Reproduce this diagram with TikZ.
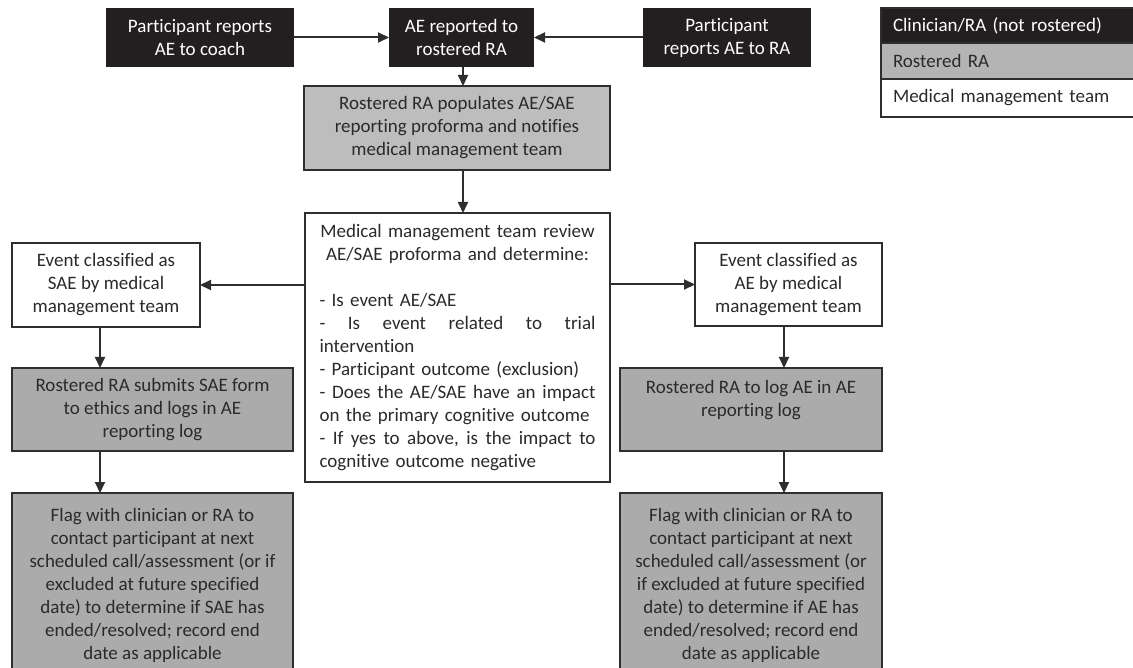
\documentclass[tikz,border=0pt]{standalone}
\usepackage{fontspec}
\setmainfont[Ligatures=NoCommon]{Carlito}
\usetikzlibrary{arrows.meta}
\definecolor{boxblack}{HTML}{231F20}
\definecolor{graylight}{HTML}{BDBDBD}
\definecolor{graydark}{HTML}{ABABAB}
\definecolor{graylegend}{HTML}{B4B4B4}
\definecolor{txt}{HTML}{2A2A2A}
\definecolor{edge}{HTML}{2E2E2E}
\newcommand{\hf}{\hspace{0pt plus 1fill}}
\newcommand{\jline}[1]{\leavevmode\hbox to 276pt{#1}}
\begin{document}
\begin{tikzpicture}[x=1pt,y=-1pt,
  base/.style={rectangle, inner sep=0pt, outer sep=0pt, align=center,
    font=\fontsize{19}{23}\selectfont, text=txt, anchor=north west},
  blackbox/.style={base, fill=boxblack, text=white},
  lightbox/.style={base, fill=graylight, draw=edge, line width=1.8pt},
  graybox/.style={base, fill=graydark, draw=edge, line width=1.8pt},
  whitebox/.style={base, fill=white, draw=edge, line width=1.4pt},
  legrow/.style={base, draw=edge, line width=1.3pt, minimum width=260pt, text width=236pt, align=left},
  arr/.style={line width=2pt, draw=edge, -{Triangle[length=11pt,width=10pt]}},
]
\useasboundingbox (0,0) rectangle (1133,668);

% top row
\node[blackbox, minimum width=188pt, minimum height=59pt] (coach) at (106,8) {Participant reports\\AE to coach};
\node[blackbox, minimum width=145pt, minimum height=59pt] (aerep) at (389,8) {AE reported to\\rostered RA};
\node[blackbox, minimum width=168pt, minimum height=59pt] (prep) at (643,8) {Participant\\reports AE to RA};

\node[lightbox, minimum width=306pt, minimum height=84pt] (pop) at (304,86) {Rostered RA populates AE/SAE\\reporting proforma and notifies\\medical management team};

% centre review box
\node[whitebox, minimum width=305pt, minimum height=269pt, text width=276pt, align=left] (mmt) at (305,213) {%
\makebox[276pt][c]{Medical management team review}\\
\makebox[276pt][c]{AE/SAE proforma and determine:}\\
\mbox{}\\
\makebox[276pt][l]{- Is event AE/SAE}\\
\jline{-\hf Is\hf event\hf related\hf to\hf trial}\\
\makebox[276pt][l]{intervention}\\
\makebox[276pt][l]{- Participant outcome (exclusion)}\\
\jline{-\hf Does\hf the\hf AE/SAE\hf have\hf an\hf impact}\\
\makebox[276pt][l]{on the primary cognitive outcome}\\
\jline{-\hf If\hf yes\hf to\hf above,\hf is\hf the\hf impact\hf to}\\
\makebox[276pt][l]{cognitive outcome negative}};

% left branch
\node[whitebox, minimum width=188pt, minimum height=84pt] (sae) at (12,243) {Event classified as\\SAE by medical\\management team};
\node[graybox, minimum width=281pt, minimum height=83pt] (saelog) at (12,368) {Rostered RA submits SAE form\\to ethics and logs in AE\\reporting log};
\node[graybox, minimum width=281pt, minimum height=184pt] (saeflag) at (12,493) {Flag with clinician or RA to\\contact participant at next\\scheduled call/assessment (or if\\excluded at future specified\\date) to determine if SAE has\\ended/resolved; record end\\date as applicable};

% right branch
\node[whitebox, minimum width=187pt, minimum height=83pt] (ae) at (695,243) {Event classified as\\AE by medical\\management team};
\node[graybox, minimum width=262pt, minimum height=83pt] (aelog) at (620,368) {Rostered RA to log AE in AE\\reporting log\\\mbox{}};
\node[graybox, minimum width=262pt, minimum height=184pt] (aeflag) at (620,493) {Flag with clinician or RA to\\contact participant at next\\scheduled call/assessment (or\\if excluded at future specified\\date) to determine if AE has\\ended/resolved; record end\\date as applicable};

% legend
\node[legrow, fill=boxblack, text=white, minimum height=35pt] (leg1) at (881,8) {Clinician/RA (not rostered)};
\node[legrow, fill=graylegend, minimum height=36pt] (leg2) at (881,43) {Rostered RA};
\node[legrow, fill=white, minimum height=38pt] (leg3) at (881,79) {Medical management team};

% connectors
\coordinate (xl) at (100,0);
\coordinate (xr) at (784,0);
\coordinate (xc) at (463,0);
\draw[arr] (coach.east) -- (aerep.west);
\draw[arr] (prep.west) -- (aerep.east);
\draw[arr] (aerep.south -| xc) -- (pop.north -| xc);
\draw[arr] (pop.south -| xc) -- (mmt.north -| xc);
\draw[arr] (mmt.west |- sae.east) -- (sae.east);
\draw[arr] (mmt.east |- ae.west) -- (ae.west);
\draw[arr] (sae.south -| xl) -- (saelog.north -| xl);
\draw[arr] (saelog.south -| xl) -- (saeflag.north -| xl);
\draw[arr] (ae.south -| xr) -- (aelog.north -| xr);
\draw[arr] (aelog.south -| xr) -- (aeflag.north -| xr);
\end{tikzpicture}
\end{document}
